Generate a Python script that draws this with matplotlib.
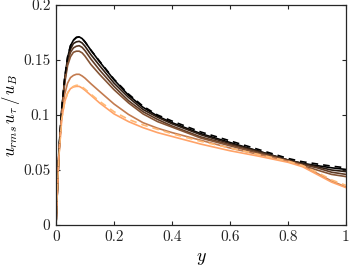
import matplotlib
matplotlib.use('Agg')
import matplotlib.pyplot as plt
import numpy as np

plt.rcParams['font.family'] = 'serif'
plt.rcParams['font.serif'] = ['cmr10', 'DejaVu Serif']
plt.rcParams['mathtext.fontset'] = 'cm'
plt.rcParams['axes.formatter.use_mathtext'] = True

# wall distance
y = [0, 0.005, 0.01, 0.02, 0.03, 0.04, 0.05, 0.06, 0.07, 0.08, 0.09, 0.1, 0.12, 0.15,
     0.2, 0.25, 0.3, 0.35, 0.4, 0.5, 0.6, 0.7, 0.8, 0.85, 0.9, 0.95, 1.0]

# rms profiles, darkest to lightest
u1 = [0, 0.034, 0.066, 0.105, 0.133, 0.152, 0.163, 0.168, 0.1705, 0.171, 0.1695, 0.1665, 0.159, 0.1485,
      0.132, 0.118, 0.107, 0.099, 0.093, 0.083, 0.075, 0.067, 0.059, 0.056, 0.054, 0.052, 0.0505]
u2 = [0, 0.034, 0.066, 0.105, 0.132, 0.150, 0.160, 0.165, 0.1665, 0.167, 0.1655, 0.1625, 0.155, 0.145,
      0.129, 0.116, 0.105, 0.098, 0.092, 0.082, 0.074, 0.067, 0.059, 0.056, 0.053, 0.050, 0.0485]
u3 = [0, 0.034, 0.066, 0.104, 0.131, 0.148, 0.157, 0.161, 0.1625, 0.163, 0.1615, 0.1585, 0.151, 0.141,
      0.126, 0.113, 0.103, 0.096, 0.090, 0.080, 0.073, 0.066, 0.059, 0.055, 0.052, 0.048, 0.046]
u4 = [0, 0.034, 0.065, 0.103, 0.129, 0.145, 0.153, 0.157, 0.158, 0.158, 0.1565, 0.1535, 0.146, 0.137,
      0.123, 0.111, 0.101, 0.094, 0.089, 0.079, 0.072, 0.065, 0.058, 0.054, 0.050, 0.046, 0.044]
u5 = [0, 0.033, 0.064, 0.100, 0.119, 0.129, 0.134, 0.136, 0.137, 0.137, 0.1355, 0.1335, 0.1285, 0.1215,
      0.110, 0.1005, 0.093, 0.088, 0.084, 0.077, 0.070, 0.064, 0.058, 0.054, 0.047, 0.040, 0.0345]
u6 = [0, 0.033, 0.063, 0.097, 0.112, 0.120, 0.124, 0.1255, 0.126, 0.126, 0.1245, 0.1225, 0.118, 0.111,
      0.101, 0.094, 0.0885, 0.084, 0.0805, 0.0735, 0.0675, 0.0625, 0.057, 0.053, 0.046, 0.039, 0.034]

# reference (dashed) profiles
ref_dark = [0, 0.035, 0.068, 0.107, 0.134, 0.153, 0.163, 0.168, 0.1705, 0.171, 0.1695, 0.1665, 0.159, 0.149,
            0.1325, 0.119, 0.108, 0.1, 0.0945, 0.0845, 0.0765, 0.0685, 0.0605, 0.0575, 0.0555, 0.0535, 0.052]
ref_light = [0, 0.033, 0.063, 0.097, 0.112, 0.120, 0.124, 0.126, 0.127, 0.127, 0.1255, 0.1235, 0.119, 0.1125,
             0.103, 0.096, 0.091, 0.087, 0.083, 0.076, 0.070, 0.064, 0.058, 0.054, 0.048, 0.041, 0.036]

profiles = [u1, u2, u3, u4, u5, u6]
shade = [0.0, 0.15, 0.3, 0.42, 0.62, 0.82]

fig = plt.figure(figsize=(3.49, 2.69), dpi=100)
ax = fig.add_axes([0.1605, 0.1636, 0.8309, 0.8178])

cmap = plt.get_cmap('copper')
for u, s in zip(profiles, shade):
    ax.plot(y, u, color=cmap(s), lw=1.2)
ax.plot(y, ref_dark, color='black', lw=1.2, ls=(0, (4, 3)))
ax.plot(y, ref_light, color=(1.0, 0.72, 0.46), lw=1.2, ls=(0, (4, 3)))

ax.set_xlim(0, 1)
ax.set_ylim(0, 0.2)
ax.set_xticks([0, 0.2, 0.4, 0.6, 0.8, 1])
ax.set_xticklabels(['0', '0.2', '0.4', '0.6', '0.8', '1'])
ax.set_yticks([0, 0.05, 0.1, 0.15, 0.2])
ax.set_yticklabels(['0', '0.05', '0.1', '0.15', '0.2'])
ax.tick_params(direction='in', top=True, right=True, labelsize=11, length=3,
               color='#262626', labelcolor='#262626', pad=4)
for sp in ax.spines.values():
    sp.set_color('#262626')
    sp.set_linewidth(0.9)

ax.set_xlabel('$y$', fontsize=13, labelpad=5)
ax.set_ylabel(r'$u_{rms}\,u_\tau\,/\,u_B$', fontsize=12, labelpad=1)

fig.savefig('out.png', dpi=100)
